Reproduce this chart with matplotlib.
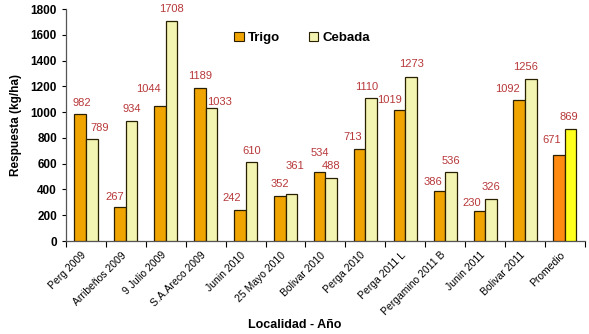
import matplotlib
matplotlib.use("Agg")
import matplotlib.pyplot as plt
import matplotlib.transforms as mtrans
import numpy as np
from matplotlib.patches import Patch

categories = ["Perg 2009", "Arribeños 2009", "9 Julio 2009", "S.A.Areco 2009",
              "Junin 2010", "25 Mayo 2010", "Bolivar 2010", "Perga 2010",
              "Perga 2011 L", "Pergamino 2011 B", "Junin 2011", "Bolivar 2011",
              "Promedio"]
trigo = [982, 267, 1044, 1189, 242, 352, 534, 713, 1019, 386, 230, 1092, 671]
cebada = [789, 934, 1708, 1033, 610, 361, 488, 1110, 1273, 536, 326, 1256, 869]

# label offsets (dx in category units, dy in data units) - layout only
trigo_off = [(0.045, 88), (-0.13, 75), (-0.28, 135), (0.0, 91), (-0.2, 92),
             (0.0, 90), (0.0, 149), (-0.18, 93), (-0.255, 75), (-0.155, 71),
             (-0.2, 65), (-0.3, 87), (-0.18, 112)]
ceb_off = [(0.2, 88), (0.0, 90), (0.0, 92), (0.2, 45), (0.0, 88),
           (0.08, 221), (0.0, 93), (-0.12, 85), (0.0, 100), (0.0, 85),
           (0.0, 93), (-0.12, 93), (-0.045, 93)]

plt.rcParams['font.family'] = ['Liberation Sans', 'DejaVu Sans']

fig = plt.figure(figsize=(5.89, 3.34), dpi=100)
ax = fig.add_axes([0.112, 0.2784, 0.881, 0.6946])

n = len(categories)
x = np.arange(n) + 0.5
w = 0.29
tcol = ['#F0A400'] * (n - 1) + ['#FF8A12']
ccol = ['#F3F3B2'] * (n - 1) + ['#FFFF1E']
ax.bar(x - w / 2, trigo, w, color=tcol, edgecolor='#2a2000', linewidth=0.9, zorder=3)
ax.bar(x + w / 2, cebada, w, color=ccol, edgecolor='#2a2000', linewidth=0.9, zorder=3)

lab_col = '#B8383A'
for i in range(n):
    ax.text(x[i] - w / 2 + trigo_off[i][0], trigo[i] + trigo_off[i][1], str(trigo[i]),
            ha='center', va='center', fontsize=8, color=lab_col)
    ax.text(x[i] + w / 2 + ceb_off[i][0], cebada[i] + ceb_off[i][1], str(cebada[i]),
            ha='center', va='center', fontsize=8, color=lab_col)

ax.set_xlim(0, n)
ax.set_ylim(0, 1800)
ax.set_yticks(np.arange(0, 1801, 200))
ax.tick_params(axis='y', labelsize=8.5, length=3, width=0.8)
for t in ax.get_yticklabels():
    t.set_fontweight('bold')

ax.set_xticks(np.arange(0, n + 1), minor=False)
ax.set_xticklabels([])
ax.tick_params(axis='x', length=4, width=0.8)
ax.set_xticks(x, minor=True)
ax.set_xticklabels(categories, minor=True, rotation=45, ha='right',
                   rotation_mode='anchor', fontsize=7.5)
ax.tick_params(axis='x', which='minor', length=0, pad=5)
off = mtrans.ScaledTranslation(-5 / 100, -2 / 100, fig.dpi_scale_trans)
for t in ax.get_xticklabels(minor=True):
    t.set_transform(t.get_transform() + off)

for s in ['top', 'right']:
    ax.spines[s].set_visible(False)
for s in ['left', 'bottom']:
    ax.spines[s].set_color('#555555')
    ax.spines[s].set_linewidth(0.9)

ax.set_ylabel('Respuesta (kg/ha)', fontsize=8.5, fontweight='bold', labelpad=6)
fig.text(0.5, 0.008, 'Localidad - Año', fontsize=9, fontweight='bold', ha='center', va='bottom')

handles = [Patch(facecolor='#F0A400', edgecolor='#2a2000', linewidth=0.8),
           Patch(facecolor='#F3F3B2', edgecolor='#2a2000', linewidth=0.8)]
leg = ax.legend(handles, ['Trigo', 'Cebada'], ncol=2, frameon=False,
                loc='center', bbox_to_anchor=(0.455, 0.875),
                prop={'weight': 'bold', 'size': 9.5}, handlelength=0.7,
                handleheight=0.7, handletextpad=0.3, columnspacing=2.2)

fig.savefig('out.png', dpi=100)
